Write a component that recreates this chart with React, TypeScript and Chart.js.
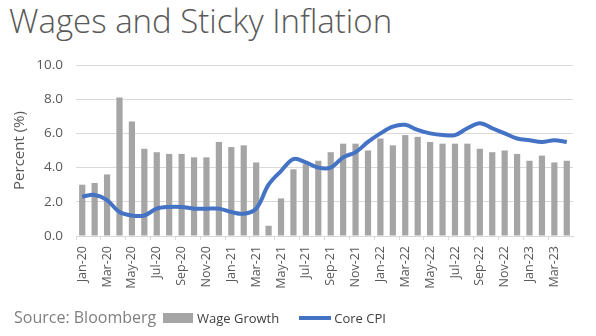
import React, { useEffect, useRef } from "react";
import { Chart, registerables } from "chart.js";

Chart.register(...registerables);

const categories = [
  "Jan-20", "Feb-20", "Mar-20", "Apr-20", "May-20", "Jun-20", "Jul-20", "Aug-20", "Sep-20", "Oct-20", "Nov-20", "Dec-20",
  "Jan-21", "Feb-21", "Mar-21", "Apr-21", "May-21", "Jun-21", "Jul-21", "Aug-21", "Sep-21", "Oct-21", "Nov-21", "Dec-21",
  "Jan-22", "Feb-22", "Mar-22", "Apr-22", "May-22", "Jun-22", "Jul-22", "Aug-22", "Sep-22", "Oct-22", "Nov-22", "Dec-22",
  "Jan-23", "Feb-23", "Mar-23", "Apr-23",
];

const wageGrowth = [
  3.0, 3.1, 3.6, 8.1, 6.7, 5.1, 4.9, 4.8, 4.8, 4.6, 4.6, 5.5,
  5.2, 5.3, 4.3, 0.6, 2.2, 3.9, 4.2, 4.4, 4.9, 5.4, 5.4, 5.0,
  5.7, 5.3, 5.9, 5.8, 5.5, 5.4, 5.4, 5.4, 5.1, 4.9, 5.0, 4.8,
  4.4, 4.7, 4.3, 4.4,
];

const coreCPI = [
  2.3, 2.4, 2.1, 1.4, 1.2, 1.2, 1.6, 1.7, 1.7, 1.6, 1.6, 1.6,
  1.4, 1.3, 1.6, 3.0, 3.8, 4.5, 4.3, 4.0, 4.0, 4.6, 4.9, 5.5,
  6.0, 6.4, 6.5, 6.2, 6.0, 5.9, 5.9, 6.3, 6.6, 6.3, 6.0, 5.7,
  5.6, 5.5, 5.6, 5.5,
];

const yTicks = [0, 2, 4, 6, 8, 10];

const BAR_COLOR = "#A5A5A5";
const LINE_COLOR = "#4472C4";
const TEXT_COLOR = "#595959";
const FONT = "'Open Sans', 'Noto Sans', sans-serif";

export default function App() {
  const canvasRef = useRef<HTMLCanvasElement | null>(null);

  useEffect(() => {
    document.body.style.margin = "0";
    const canvas = canvasRef.current;
    if (!canvas) return;
    const chart = new Chart(canvas, {
      data: {
        labels: categories,
        datasets: [
          {
            type: "line",
            label: "Core CPI",
            data: coreCPI,
            borderColor: LINE_COLOR,
            backgroundColor: LINE_COLOR,
            borderWidth: 4,
            pointRadius: 0,
            tension: 0.35,
            order: 0,
          },
          {
            type: "bar",
            label: "Wage Growth",
            data: wageGrowth,
            backgroundColor: BAR_COLOR,
            categoryPercentage: 1,
            barPercentage: 0.5,
            order: 1,
          },
        ],
      },
      options: {
        animation: false,
        responsive: false,
        maintainAspectRatio: false,
        layout: { padding: { top: 65, right: 23, bottom: 42, left: 0 } },
        plugins: {
          legend: { display: false },
          tooltip: { enabled: false },
        },
        scales: {
          x: {
            type: "category",
            offset: true,
            grid: {
              offset: true,
              drawOnChartArea: false,
              drawTicks: true,
              tickLength: 4,
              color: (ctx: any) => (ctx.index % 2 === 0 ? "#D9D9D9" : "rgba(0,0,0,0)"),
            },
            border: { display: true, color: "#D9D9D9", width: 1 },
            ticks: {
              autoSkip: false,
              maxRotation: 90,
              minRotation: 90,
              padding: 6,
              color: TEXT_COLOR,
              font: { family: FONT, size: 12.5 },
              callback: (_v: any, i: number) => (i % 2 === 0 ? categories[i] : ""),
            },
            afterFit: (scale: any) => {
              scale.height = 58;
            },
          },
          y: {
            min: 0,
            max: 10,
            afterBuildTicks: (scale: any) => {
              scale.ticks = yTicks.map((v) => ({ value: v }));
            },
            grid: { color: "#D9D9D9", drawTicks: false },
            border: { display: false },
            ticks: {
              padding: 13,
              color: TEXT_COLOR,
              font: { family: FONT, size: 13.5 },
              callback: (v: any) => Number(v).toFixed(1),
            },
            title: {
              display: true,
              text: "Percent (%)",
              color: TEXT_COLOR,
              font: { family: FONT, size: 15 },
              padding: { top: 11, bottom: 0 },
            },
            afterFit: (scale: any) => {
              scale.width = 76;
            },
          },
        },
      },
    });
    return () => chart.destroy();
  }, []);

  return (
    <div style={{ position: "relative", width: 596, height: 336, overflow: "hidden", background: "#fff" }}>
      <div
        style={{
          position: "absolute",
          left: 9,
          top: -2,
          fontFamily: FONT,
          fontWeight: 300,
          fontSize: 33,
          color: TEXT_COLOR,
          whiteSpace: "nowrap",
          letterSpacing: 0,
        }}
      >
        Wages and Sticky Inflation
      </div>
      <canvas ref={canvasRef} width={596} height={336} style={{ position: "absolute", left: 0, top: 0 }} />
      <div
        style={{
          position: "absolute",
          left: 14,
          top: 306,
          fontFamily: FONT,
          fontSize: 16,
          color: "#808080",
          whiteSpace: "nowrap",
        }}
      >
        Source: Bloomberg
      </div>
      <div
        style={{
          position: "absolute",
          left: 163,
          top: 309,
          display: "flex",
          alignItems: "center",
          fontFamily: FONT,
          fontSize: 13,
          color: "#404040",
          whiteSpace: "nowrap",
        }}
      >
        <span style={{ display: "inline-block", width: 30, height: 10, background: BAR_COLOR, marginRight: 4 }} />
        <span style={{ marginRight: 20 }}>Wage Growth</span>
        <span style={{ display: "inline-block", width: 32, height: 4, background: LINE_COLOR, marginRight: 3 }} />
        <span>Core CPI</span>
      </div>
    </div>
  );
}
